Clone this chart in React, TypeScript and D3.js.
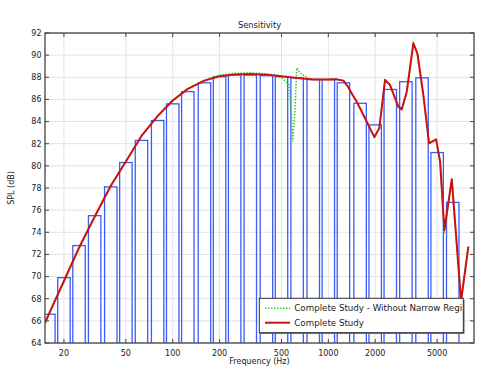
import React from "react";
import * as d3 from "d3";

const bandCenters = [16, 20, 25, 31.5, 40, 50, 63, 80, 100, 125, 160, 200, 250, 315, 400, 500, 630, 800, 1000, 1250, 1600, 2000, 2500, 3150, 4000, 5000, 6300];
const bandLevels = [66.6, 69.9, 72.8, 75.5, 78.1, 80.3, 82.3, 84.1, 85.6, 86.7, 87.5, 88.05, 88.2, 88.2, 88.15, 88.05, 87.95, 87.8, 87.8, 87.5, 85.65, 83.7, 86.9, 87.6, 87.95, 81.2, 76.7];

const completeFreq = [15.1, 16, 20, 25, 31.5, 40, 50, 63, 80, 100, 125, 160, 200, 250, 315, 400, 500, 630, 800, 1000, 1120, 1250, 1344, 1420, 1522, 1721, 1975, 2127, 2314, 2492, 2818, 2962, 3191, 3518, 3733, 4079, 4439, 4923, 5224, 5567, 6211, 7126, 7938];
const completeSPL = [65.8, 66.6, 69.6, 72.6, 75.4, 78.2, 80.4, 82.7, 84.5, 85.9, 86.95, 87.7, 88.1, 88.25, 88.3, 88.22, 88.1, 87.93, 87.8, 87.8, 87.83, 87.7, 87.1, 86.5, 85.8, 84.3, 82.6, 83.4, 87.76, 87.3, 85.35, 85.1, 86.7, 91.07, 90.17, 86.4, 82.04, 82.4, 80.4, 74.2, 78.8, 67.8, 72.7];

const withoutFreq = [15.1, 16, 20, 25, 31.5, 40, 50, 63, 80, 100, 125, 160, 200, 250, 315, 400, 466, 504, 559, 573, 590, 611, 627, 658, 744, 800, 1000, 1120, 1250, 1344, 1420, 1522, 1721, 1975, 2127, 2314, 2492, 2818, 2962, 3191, 3518, 3733, 4079, 4439, 4923, 5224, 5567, 6211, 7126, 7938];
const withoutSPL = [65.8, 66.6, 69.6, 72.6, 75.4, 78.2, 80.4, 82.7, 84.5, 85.9, 86.95, 87.75, 88.2, 88.35, 88.4, 88.32, 88.2, 87.95, 87.3, 85.6, 82.2, 85.2, 88.85, 88.4, 87.9, 87.8, 87.8, 87.83, 87.7, 87.1, 86.5, 85.8, 84.3, 82.6, 83.4, 87.76, 87.3, 85.35, 85.1, 86.7, 91.07, 90.17, 86.4, 82.04, 82.4, 80.4, 73.9, 78.8, 67.8, 72.7];

const xTicks = [20, 50, 100, 200, 500, 1000, 2000, 5000];
const yTicks = [64, 66, 68, 70, 72, 74, 76, 78, 80, 82, 84, 86, 88, 90, 92];
const legendLabels = ["Complete Study - Without Narrow Region", "Complete Study"];

const W = 483, H = 373;
const L = 45, R = 474, T = 33, B = 343;

export default function App() {
  const x = d3.scaleLog().domain([15.11, 8630]).range([L, R]);
  const y = d3.scaleLinear().domain([64, 92]).range([B, T]);
  const font = "DejaVu Sans, sans-serif";

  const line = d3.line<[number, number]>().x(d => x(d[0])).y(d => y(d[1]));
  const redPts = completeFreq.map((f, i) => [f, completeSPL[i]] as [number, number]);
  const greenPts = withoutFreq.map((f, i) => [f, withoutSPL[i]] as [number, number]);

  const halfBand = Math.pow(10, 0.04);

  return (
    <svg width={W} height={H} style={{ position: "absolute", left: 0, top: 0, background: "#fff" }} fontFamily={font}>
      <defs>
        <clipPath id="plotClip"><rect x={L} y={T} width={R - L} height={B - T} /></clipPath>
        <clipPath id="legClip"><rect x={259} y={298} width={203} height={34} /></clipPath>
      </defs>
      <rect x={0} y={0} width={W} height={H} fill="#fff" />
      {yTicks.map(v => (
        <line key={"gy" + v} x1={L} x2={R} y1={y(v)} y2={y(v)} stroke="#e3e3e3" strokeWidth={1} />
      ))}
      {xTicks.map(v => (
        <line key={"gx" + v} x1={x(v)} x2={x(v)} y1={T} y2={B} stroke="#e3e3e3" strokeWidth={1} />
      ))}
      <g clipPath="url(#plotClip)">
        {bandCenters.map((f, i) => {
          const x0 = x(f / halfBand), x1 = x(f * halfBand);
          return (
            <rect key={"b" + i} x={x0} y={y(bandLevels[i])} width={x1 - x0} height={B - y(bandLevels[i]) + 2}
              fill="none" stroke="#3d5cf5" strokeWidth={1.3} />
          );
        })}
        <path d={line(greenPts) || ""} fill="none" stroke="#33cc33" strokeWidth={1.6} strokeDasharray="1.5,1.5" />
        <path d={line(redPts) || ""} fill="none" stroke="#cc1111" strokeWidth={2} strokeLinejoin="round" />
      </g>
      <rect x={L} y={T} width={R - L} height={B - T} fill="none" stroke="#444" strokeWidth={1.3} />
      {yTicks.map(v => (
        <g key={"ty" + v}>
          <line x1={L} x2={L + 4} y1={y(v)} y2={y(v)} stroke="#444" />
          <line x1={R - 4} x2={R} y1={y(v)} y2={y(v)} stroke="#444" />
          <text x={41.5} y={y(v)} dy="0.35em" textAnchor="end" fontSize={8} fill="#222">{v}</text>
        </g>
      ))}
      {xTicks.map(v => (
        <g key={"tx" + v}>
          <line x1={x(v)} x2={x(v)} y1={T} y2={T + 4} stroke="#444" />
          <line x1={x(v)} x2={x(v)} y1={B - 4} y2={B} stroke="#444" />
          <text x={x(v)} y={356} textAnchor="middle" fontSize={8} fill="#222">{v}</text>
        </g>
      ))}
      <text x={(L + R) / 2} y={28} textAnchor="middle" fontSize={8.3} fill="#222">Sensitivity</text>
      <text x={(L + R) / 2} y={364} textAnchor="middle" fontSize={8} fill="#222">Frequency (Hz)</text>
      <text transform={`translate(13.5, ${(T + B) / 2}) rotate(-90)`} textAnchor="middle" fontSize={8} fill="#222">SPL (dB)</text>
      <rect x={260.5} y={299.5} width={204} height={34.4} fill="#666" />
      <rect x={259.3} y={298.3} width={204} height={34.4} fill="#fff" stroke="#333" strokeWidth={1} />
      <g clipPath="url(#legClip)">
        <line x1={265} x2={290} y1={308.3} y2={308.3} stroke="#33cc33" strokeWidth={1.6} strokeDasharray="1.5,1.5" />
        <text x={294.3} y={311.3} fontSize={8.7} fill="#222">{legendLabels[0]}</text>
        <line x1={265} x2={290} y1={322.7} y2={322.7} stroke="#cc1111" strokeWidth={2} />
        <text x={294.3} y={325.8} fontSize={8.7} fill="#222">{legendLabels[1]}</text>
      </g>
    </svg>
  );
}
